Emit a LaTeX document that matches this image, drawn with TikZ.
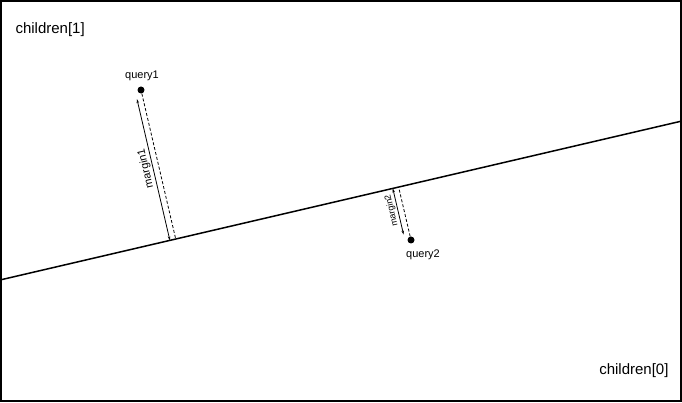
\documentclass[tikz,border=0pt]{standalone}
\usepackage{fontspec}
\setmainfont{Liberation Sans}
\usetikzlibrary{calc,arrows.meta}

\begin{document}
\begin{tikzpicture}[x=1pt,y=1pt,
  pt/.style={circle,fill=black,inner sep=0pt,minimum size=7pt},
  marg/.style={line width=0.8pt,{Stealth[length=4pt,width=2.5pt]}-{Stealth[length=4pt,width=2.5pt]}},
  perp/.style={line width=0.8pt,dash pattern=on 3pt off 2pt},
  lbl/.style={sloped,above,allow upside down,inner sep=1.5pt}]
\useasboundingbox (0,0) rectangle (682,403);
\draw[line width=1.5pt] (1,2) rectangle (681,402);

\node (c1) at (12,373) [anchor=west,font=\fontsize{15}{17}\selectfont] {children[1]};
\node (c0) at (672,32) [anchor=east,font=\fontsize{15}{17}\selectfont] {children[0]};

% separating line
\coordinate (l0) at (0,123);
\coordinate (l1) at (682,282);
\draw[line width=1.5pt] (l0) -- (l1);

\node (q1) at (141,313) [pt] {};
\node (q2) at (411,163) [pt] {};
\node (t1) at (142,327) [font=\fontsize{11}{13}\selectfont] {query1};
\node (t2) at (423,148) [font=\fontsize{11}{13}\selectfont] {query2};

\coordinate (f1) at ($(l0)!(q1)!(l1)$);
\coordinate (f2) at ($(l0)!(q2)!(l1)$);
\draw[perp] (q1) -- (f1);
\draw[perp] (q2) -- (f2);

\coordinate (a1) at ($(q1)!8pt!(f1)!6pt!-90:(f1)$);
\coordinate (b1) at ($(f1)!6pt!90:(q1)$);
\coordinate (a2) at ($(q2)!7pt!(f2)!6pt!90:(f2)$);
\coordinate (b2) at ($(f2)!6pt!-90:(q2)$);
\draw[marg] (b1) -- node[lbl,pos=0.52,font=\fontsize{11}{13}\selectfont] {margin1} (a1);
\draw[marg] (a2) -- node[lbl,pos=0.55,font=\fontsize{9}{11}\selectfont] {margin2} (b2);
\end{tikzpicture}
\end{document}
